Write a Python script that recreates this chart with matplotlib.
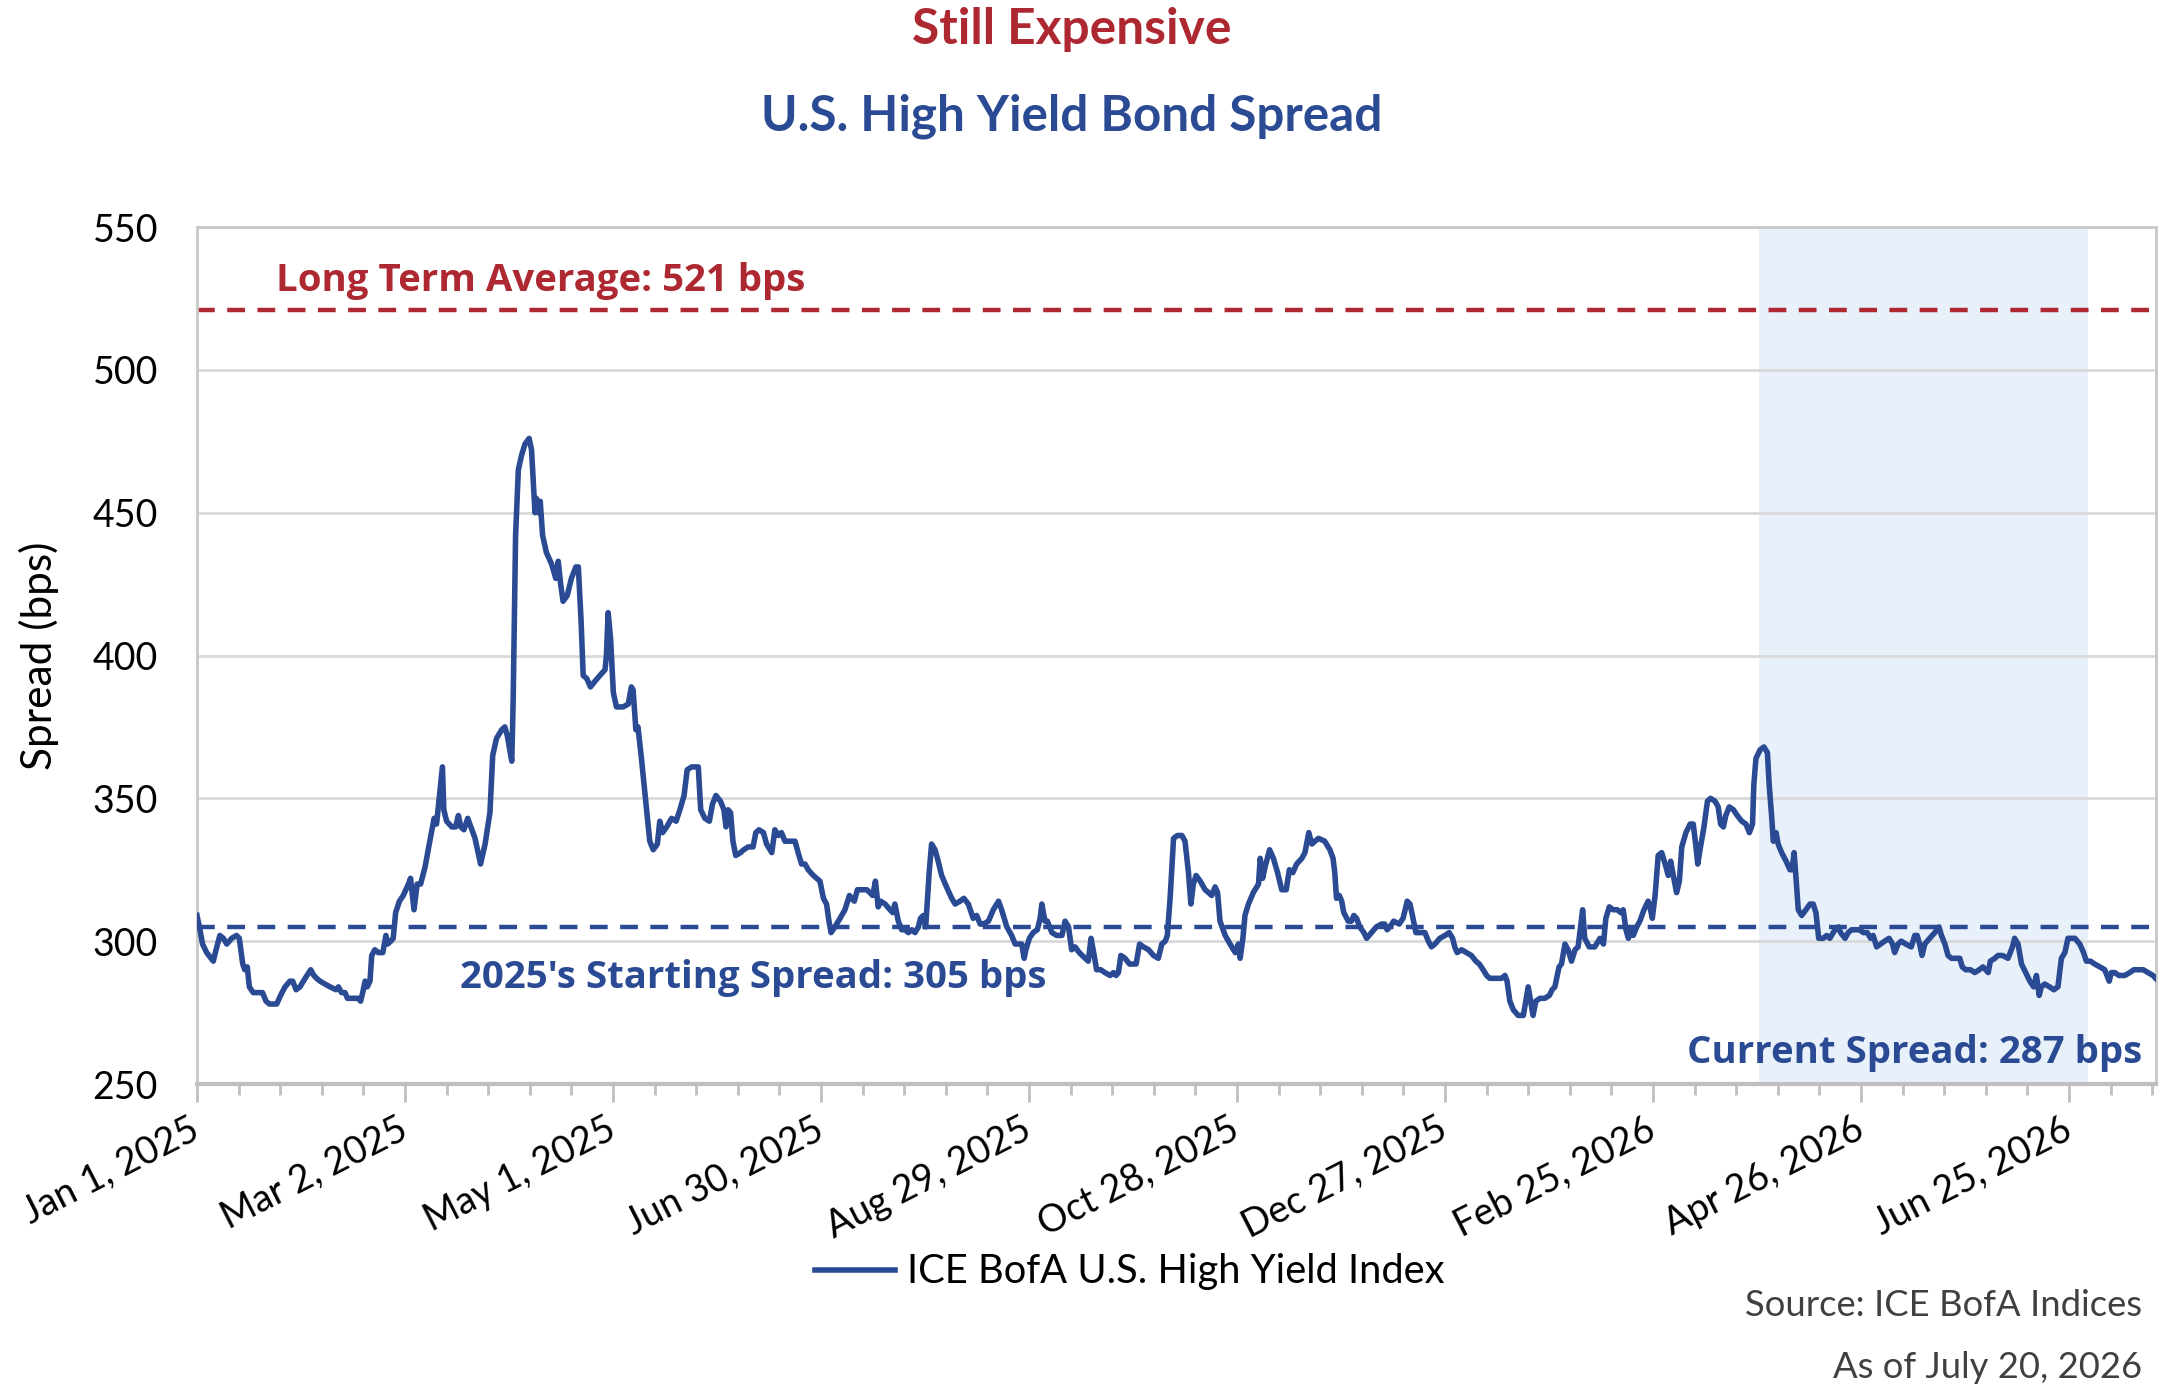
import pandas as pd
import matplotlib
matplotlib.use("Agg")
import matplotlib.pyplot as plt
import matplotlib.dates as mdates
from matplotlib.ticker import FixedLocator, FuncFormatter

plt.rcParams['font.family'] = ['Lato', 'DejaVu Sans']

# Datos: dias desde el 1 de enero de 2025 y spread (bps)
start_date = '2025-01-01'
end_date = '2026-07-20'

days_since_start = [
    0.0, 0.7, 1.6, 2.8, 4.7, 5.5, 6.6, 7.6, 8.6, 10.0, 11.4, 12.2, 13.2, 13.8, 14.5, 15.1, 16.2, 18.2, 18.9, 19.9,
    20.9, 22.0, 23.0, 24.1, 25.4, 26.8, 27.6, 28.6, 29.7, 31.2, 32.8, 33.7, 34.5, 35.5, 36.9, 38.4, 40.1, 40.8, 41.7, 42.7,
    43.4, 45.1, 46.5, 47.2, 47.8, 48.5, 49.1, 49.9, 50.4, 51.3, 52.3, 53.6, 54.5, 55.0, 55.9, 56.6, 57.3, 58.4, 59.5, 61.0,
    61.6, 62.6, 63.5, 64.5, 65.8, 67.0, 68.4, 69.1, 70.8, 71.2, 72.0, 73.5, 74.6, 75.4, 76.1, 77.0, 78.1,
    80.2, 81.8, 83.1, 84.5, 85.3, 86.4, 87.9, 88.8, 89.5, 90.8, 91.2, 91.9, 92.7, 93.6, 94.6, 95.8, 96.5, 97.5, 97.9, 98.4,
    99.0, 99.7, 100.8, 102.3, 103.5, 104.2, 104.9, 105.6, 106.8, 108.0, 109.3, 110.0, 110.8, 111.4, 112.4, 113.5, 114.8, 116.2, 117.7, 118.1,
    118.6, 119.3, 120.1, 121.0, 122.9, 124.4, 125.3, 125.8, 126.6, 127.2, 128.2, 129.7, 130.6, 131.6, 132.8, 133.5, 134.3, 135.5, 136.9, 138.2,
    139.3, 140.5, 141.4, 142.7, 144.6, 145.3, 146.5, 147.8, 148.7, 149.7, 151.0, 152.0, 152.6, 153.2, 153.9, 154.6, 155.4, 156.8, 157.7, 159.0,
    160.4, 161.2, 162.1,
    163.4, 164.3, 165.8, 166.7, 167.7, 168.6, 169.6, 171.0, 172.5, 173.4, 174.4, 175.4, 176.3, 177.8, 179.7, 180.7, 181.6, 182.3, 182.9, 184.0,
    185.5, 186.9, 188.2, 188.8, 189.6, 190.5, 191.7, 193.2, 194.1, 194.9, 195.7, 196.5, 197.2, 198.5, 199.9, 200.7, 201.3, 202.3, 203.3, 204.2,
    205.2, 206.2, 207.1, 208.1, 208.7, 209.5, 210.2, 211.2, 211.9, 212.9, 213.8, 214.8, 216.2, 217.7, 218.7, 220.1, 221.2, 222.5, 223.9, 224.9,
    225.9, 226.8, 228.3, 229.7, 231.2, 232.1, 233.6, 235.0, 236.0, 237.2, 237.9, 238.6, 239.1, 240.1, 241.2, 242.4, 243.2, 243.7,
    244.6, 245.3, 246.6, 248.0, 249.5, 250.4, 251.4, 252.3, 253.3, 254.5, 256.2, 257.1, 257.9, 258.8, 259.5, 260.7, 261.9, 263.4, 264.4, 265.1,
    265.8, 266.5, 267.7, 269.0, 270.1, 270.9, 271.9, 273.0, 274.5, 275.9, 277.3, 278.3, 279.3, 279.9, 280.7, 281.7, 282.8, 284.1, 285.0, 286.0,
    286.7, 287.4, 288.2, 289.4, 290.8, 291.8, 292.7, 293.7, 294.4, 295.1, 296.6, 298.0, 299.5, 300.4, 300.9, 301.7, 302.3, 303.3, 304.7, 306.2,
    306.7, 307.4, 308.1, 309.4, 310.5, 311.7, 312.9, 314.2, 315.1, 316.1, 317.2, 318.7, 319.6, 320.7, 321.6, 322.5, 323.5,
    325.3, 326.8, 327.7, 328.2, 328.7, 329.5, 330.2, 330.8, 332.1, 333.0, 333.7, 334.5, 335.4, 336.6, 337.4, 338.8, 340.2, 341.7, 342.6, 343.3,
    344.1, 345.2, 346.8, 347.9, 349.1, 349.9, 350.6, 351.6, 352.7, 354.2, 355.2, 356.1, 357.1, 358.5, 360.0, 361.2, 362.2, 362.8, 363.5, 364.8,
    366.2, 367.6, 368.9, 369.9, 371.0, 372.0, 372.9, 374.4, 376.3, 377.3, 377.9, 378.7, 379.7, 381.1, 382.6, 383.3, 384.0, 384.7, 385.4, 386.2,
    387.4, 388.8, 390.1, 390.9, 391.7, 392.4, 392.9, 393.6, 394.6, 395.5, 396.5, 397.5, 398.4, 399.1, 399.7, 400.3, 401.6, 403.2,
    404.7, 405.7, 406.4, 407.4, 408.5, 409.7, 410.7, 411.4, 412.2, 412.9, 413.6, 414.3, 415.3, 416.2, 417.4, 418.6, 419.1, 419.8, 420.6, 421.5,
    422.5, 423.5, 424.4, 425.1, 425.7, 426.8, 427.6, 428.3, 429.5, 430.7, 431.6, 432.4, 432.9, 433.7, 434.7, 435.7, 436.6, 437.9, 438.8, 439.5,
    440.3, 441.0, 442.0, 443.2, 444.3, 445.6, 446.8, 447.8, 448.7, 449.1, 449.7, 450.9, 452.0, 453.0, 453.5, 454.2, 454.7, 455.5, 456.1, 457.1,
    458.4, 459.5, 460.1, 460.7, 461.2, 461.9, 462.9, 464.1, 465.3, 466.2, 467.0, 467.8, 469.1, 470.1, 471.0, 472.5, 473.5, 474.1, 475.4, 476.3,
    477.3, 478.3, 479.5, 480.7, 481.8, 482.8, 483.5, 484.5,
    486.8, 488.1, 489.1, 489.7, 490.7, 491.6, 492.9, 494.5, 495.5, 496.2, 496.9, 497.6, 498.4, 499.8, 501.3, 502.5, 503.2, 504.2, 505.1, 506.1,
    507.3, 508.5, 509.2, 510.2, 511.6, 512.8, 514.1, 515.2, 516.7, 517.3, 518.6, 519.5, 520.8, 522.4, 523.7, 524.3, 525.3, 526.3, 527.5, 528.7,
    529.8, 530.6, 531.4, 532.0, 533.0, 534.4, 535.6, 536.8, 537.8, 538.8, 539.7, 540.7, 541.7, 543.1, 544.2, 545.0, 546.2, 547.4, 548.9, 550.3,
    551.6, 552.2, 553.2, 554.4, 556.1, 557.5, 558.7, 559.9, 561.4, 562.8, 564.2, 565.0,
]

spread_bps = [
    309, 305, 299, 296, 293, 297, 302, 301, 299, 301, 302, 301, 292, 290, 291, 284, 282, 282, 282, 279,
    278, 278, 278, 281, 284, 286, 286, 283, 284, 287, 290, 288, 287, 286, 285, 284, 283, 284, 282, 282,
    280, 280, 280, 279, 282, 286, 284, 286, 295, 297, 296, 296, 302, 299, 300, 301, 310, 314, 316, 320,
    322, 311, 320, 320, 326, 334, 343, 341, 361, 346, 342, 340, 340, 344, 340, 339, 343,
    336, 327, 334, 345, 365, 371, 374, 375, 372, 363, 384, 442, 465, 470, 474, 476, 472, 450, 455, 450,
    454, 442, 436, 432, 427, 433, 425, 419, 421, 427, 431, 431, 412, 393, 392, 389, 391, 393, 395, 400,
    415, 406, 387, 382, 382, 383, 389, 388, 374, 375, 364, 346, 335, 332, 334, 342, 338, 340, 343, 342,
    346, 351, 360, 361, 361, 346, 343, 342, 348, 351, 349, 346, 340, 346, 345, 335, 330, 331, 332, 333,
    333, 338, 339,
    338, 334, 331, 339, 337, 338, 335, 335, 335, 331, 327, 327, 325, 323, 321, 315, 313, 307, 303, 305,
    308, 311, 316, 315, 314, 318, 318, 318, 317, 316, 321, 312, 314, 313, 311, 310, 313, 307, 304, 304,
    303, 304, 303, 305, 308, 309, 305, 324, 334, 332, 328, 323, 319, 315, 313, 314, 315, 313, 308, 309,
    306, 306, 307, 311, 314, 311, 305, 302, 299, 299, 299, 294, 297, 301, 303, 304, 308, 313,
    307, 307, 303, 302, 302, 307, 305, 297, 298, 296, 294, 293, 301, 295, 290, 290, 289, 288, 289, 288,
    289, 295, 294, 292, 292, 292, 299, 298, 297, 295, 294, 299, 300, 302, 315, 336, 337, 337, 335, 324,
    313, 320, 323, 321, 318, 317, 316, 319, 317, 307, 302, 299, 296, 299, 294, 301, 309, 313, 317, 320,
    329, 322, 326, 332, 329, 324, 318, 318, 325, 324, 327, 329, 331, 338, 334, 335, 336,
    335, 332, 329, 324, 315, 316, 314, 310, 307, 307, 309, 308, 305, 303, 301, 303, 305, 306, 306, 304,
    305, 307, 306, 308, 314, 313, 309, 303, 303, 303, 300, 298, 299, 301, 302, 303, 301, 298, 296, 297,
    296, 295, 293, 292, 290, 288, 287, 287, 287, 288, 286, 279, 276, 274, 274, 279, 284, 279, 274, 279,
    280, 280, 281, 283, 284, 288, 291, 292, 299, 297, 293, 297, 298, 305, 311, 301, 298, 298,
    301, 299, 308, 312, 311, 311, 310, 311, 304, 301, 304, 302, 305, 307, 311, 314, 312, 308, 316, 330,
    331, 327, 323, 328, 324, 317, 321, 333, 338, 341, 341, 333, 327, 333, 340, 349, 350, 349, 347, 341,
    340, 344, 347, 346, 344, 342, 341, 338, 341, 355, 364, 367, 368, 366, 355, 344, 335, 338, 334, 331,
    328, 325, 325, 331, 323, 311, 309, 311, 313, 313, 310, 301, 301, 302, 301, 304, 305, 303, 301, 303,
    304, 304, 304, 303, 303, 301, 302, 298,
    300, 301, 299, 296, 299, 300, 299, 298, 302, 302, 299, 295, 299, 301, 303, 305, 302, 299, 295, 294,
    294, 294, 291, 290, 290, 289, 290, 291, 289, 293, 294, 295, 295, 294, 298, 301, 299, 292, 289, 286,
    284, 288, 281, 284, 285, 284, 283, 284, 294, 296, 301, 301, 301, 299, 296, 293, 293, 292, 291, 290,
    286, 289, 289, 288, 288, 289, 290, 290, 290, 289, 288, 287,
]

long_term_avg = 521
starting_spread = 305
current_spread = 287
shade_start_day = 450.5
shade_end_day = 545.4

navy = '#2A4A94'
red = '#AD2831'

t0 = mdates.date2num(pd.Timestamp(start_date))
x = [t0 + d for d in days_since_start]

fig = plt.figure(figsize=(21.6, 13.91), dpi=100)
ax = fig.add_axes([0.0912, 0.2207, 0.9068, 0.6161])

ax.axvspan(t0 + shade_start_day, t0 + shade_end_day, color='#E8F0FA', zorder=0, lw=0)
ax.plot(x, spread_bps, color=navy, lw=4, zorder=3, label='ICE BofA U.S. High Yield Index',
        solid_joinstyle='round')
ax.axhline(long_term_avg, color=red, lw=3.2, dashes=(4, 2.8), zorder=2)
ax.axhline(starting_spread, color=navy, lw=3.2, dashes=(4, 2.8), zorder=2)

ax.set_xlim(t0, mdates.date2num(pd.Timestamp(end_date)))
ax.set_ylim(250, 550)
ax.set_yticks(range(250, 551, 50))
ax.yaxis.grid(True, color='#D9D9D9', lw=2)
ax.set_axisbelow(True)

major = pd.date_range(start_date, end_date, freq='60D')
minor = pd.date_range(start_date, end_date, freq='12D')
ax.xaxis.set_major_locator(FixedLocator(mdates.date2num(major)))
ax.xaxis.set_minor_locator(FixedLocator(mdates.date2num(minor)))


def fmt_date(v, pos=None):
    d = mdates.num2date(v)
    return f"{d.strftime('%b')} {d.day}, {d.year}"


ax.xaxis.set_major_formatter(FuncFormatter(fmt_date))
ax.tick_params(axis='x', which='major', length=13, width=2, color='#BFBFBF',
               labelsize=27, pad=18, labelcolor='black')
ax.tick_params(axis='x', which='minor', length=8, width=2, color='#BFBFBF')
plt.setp(ax.get_xticklabels(), rotation=27, ha='right', va='center', rotation_mode='anchor')
ax.tick_params(axis='y', length=0, labelsize=27, pad=28, labelcolor='black')

for side in ['left', 'right', 'top']:
    ax.spines[side].set_color('#C8C8C8')
    ax.spines[side].set_linewidth(2)
ax.spines['bottom'].set_color('#BFBFBF')
ax.spines['bottom'].set_linewidth(3)

ax.set_ylabel('Spread (bps)', fontsize=30.5, labelpad=24)

# anotaciones
ann_font = ['Open Sans', 'DejaVu Sans']
ax.text(t0 + 22.8, 531, f'Long Term Average: {long_term_avg} bps', color=red, fontsize=27.6,
        fontweight='bold', family=ann_font, va='center', ha='left')
ax.text(t0 + 76, 287, f"2025's Starting Spread: {starting_spread} bps", color=navy, fontsize=27.6,
        fontweight='bold', family=ann_font, va='center', ha='left')
ax.text(0.993, 261, f'Current Spread: {current_spread} bps', transform=ax.get_yaxis_transform(),
        color=navy, fontsize=27.6, fontweight='bold', family=ann_font, va='center', ha='right')

title_x = 778 / 1568
fig.text(title_x, 1 - 30 / 1391, 'Still Expensive', color=red, fontsize=35.7, fontweight='bold',
         ha='center', va='center')
fig.text(title_x, 1 - 116 / 1391, 'U.S. High Yield Bond Spread', color=navy, fontsize=35.6,
         fontweight='bold', ha='center', va='center')

fig.legend(loc='center', bbox_to_anchor=(1130 / 2160, 1 - 1272 / 1391), frameon=False,
           fontsize=28.7, handlelength=2.0, handletextpad=0.3)

fig.text(2142 / 2160, 1 - 1305 / 1391, 'Source: ICE BofA Indices', color='#404040', fontsize=26.2,
         ha='right', va='center')
fig.text(2142 / 2160, 1 - 1368 / 1391, 'As of July 20, 2026', color='#404040', fontsize=26.2,
         ha='right', va='center')

fig.savefig('out.png', dpi=100)
